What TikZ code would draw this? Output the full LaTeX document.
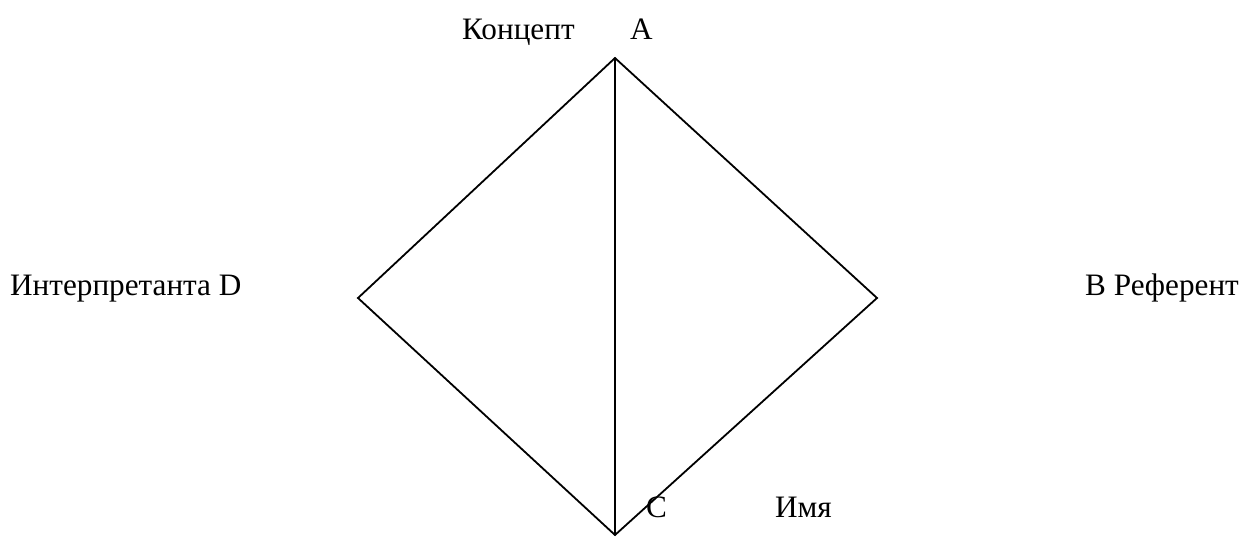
\documentclass[tikz,border=0pt]{standalone}
\usepackage{fontspec}
\setmainfont{Liberation Serif}
\newfontfamily\labelfont{Liberation Serif}

\begin{document}
\begin{tikzpicture}[
    x=1pt, y=1pt, yscale=-1, xscale=1,
    every node/.style={font=\labelfont\fontsize{31.2}{38}\selectfont, inner sep=0pt},
    edge/.style={line width=1.8pt}
]
\useasboundingbox (0,0) rectangle (1245,536);

%==================== Vertices ====================
\coordinate (A) at (615,58);
\coordinate (B) at (877,298);
\coordinate (C) at (615,535);
\coordinate (D) at (358,298);

%==================== Diamond and axis ====================
\draw [edge] (A) -- (B) -- (C) -- (D) -- cycle ;
\draw [edge] (A) -- (C) ;

%==================== Labels ====================
\node (concept) [anchor=base west] at (462,39)  {Концепт};
\node (lblA)    [anchor=base west] at (630,39)  {A};
\node (interp)  [anchor=base west] at (10,295)  {Интерпретанта D};
\node (refer)   [anchor=base west] at (1085,295) {B Референт};
\node (lblC)    [anchor=base west] at (646,517) {C};
\node (name)    [anchor=base west] at (775,517) {Имя};

\end{tikzpicture}
\end{document}
